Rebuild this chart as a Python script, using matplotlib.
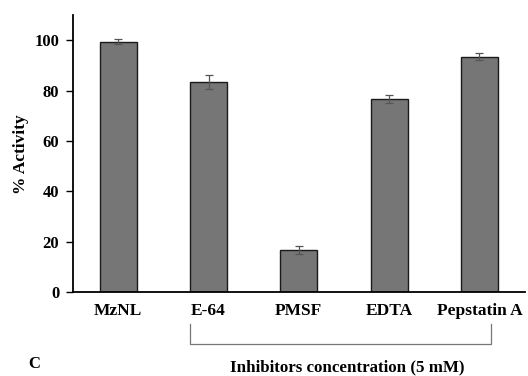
import matplotlib
matplotlib.use("Agg")
import matplotlib.pyplot as plt
import matplotlib.transforms as mtransforms


# Relative activity after treatment with each inhibitor
TREATMENTS = ["MzNL", "E-64", "PMSF", "EDTA", "Pepstatin A"]
ACTIVITY = [99.3, 83.5, 16.7, 76.7, 93.4]
ACTIVITY_ERR = [1.0, 2.8, 1.5, 1.5, 1.4]
Y_TICKS = [0, 20, 40, 60, 80, 100]

BAR_COLOR = "#767676"
FONT = "Liberation Serif"

plt.rcParams["font.family"] = FONT
plt.rcParams["font.weight"] = "bold"

W, H = 528, 376
fig = plt.figure(figsize=(W / 100, H / 100), dpi=100)
ax = fig.add_axes([0.1383, 0.2234, 0.8553, 0.7366])

x_pos = list(range(len(TREATMENTS)))
ax.bar(x_pos, ACTIVITY, width=0.41, color=BAR_COLOR, edgecolor="#1a1a1a",
       linewidth=1.0, zorder=2)
ax.errorbar(x_pos, ACTIVITY, yerr=ACTIVITY_ERR, fmt="none", ecolor="#555555",
            elinewidth=0.9, capsize=3, capthick=0.9, zorder=3)

ax.set_xlim(-0.5, 4.5)
ax.set_ylim(0, 110)
ax.set_yticks(Y_TICKS)
ax.set_xticks(x_pos)
ax.set_xticklabels(TREATMENTS, fontsize=12.5, fontweight="bold")
ax.tick_params(axis="x", length=0, pad=8)
ax.tick_params(axis="y", length=5, width=1.0, direction="out", labelsize=12, pad=5)
for lbl in ax.get_yticklabels():
    lbl.set_fontweight("bold")

for side in ("top", "right"):
    ax.spines[side].set_visible(False)
for side in ("left", "bottom"):
    ax.spines[side].set_linewidth(1.3)
    ax.spines[side].set_color("black")

# y label placed in figure pixels
fig.text(21 / W, 1 - 154 / H, "% Activity", rotation=90, ha="center", va="center",
         fontsize=12.5, fontweight="bold")

# Bracket grouping the inhibitor treatments
trans = mtransforms.blended_transform_factory(ax.transData, fig.transFigure)
bx0, bx1 = 0.79, 4.13
by_top, by_bot = 1 - 324 / H, 1 - 343.5 / H
ax.plot([bx0, bx0, bx1, bx1], [by_top, by_bot, by_bot, by_top], color="#777777",
        linewidth=0.9, transform=trans, clip_on=False)

fig.text(347 / W, 1 - 371 / H, "Inhibitors concentration (5 mM)",
         ha="center", va="baseline", fontsize=12.2, fontweight="bold")
fig.text(34 / W, 1 - 363.5 / H, "C", ha="center", va="center",
         fontsize=12, fontweight="bold")

fig.savefig("out.png", dpi=100)
